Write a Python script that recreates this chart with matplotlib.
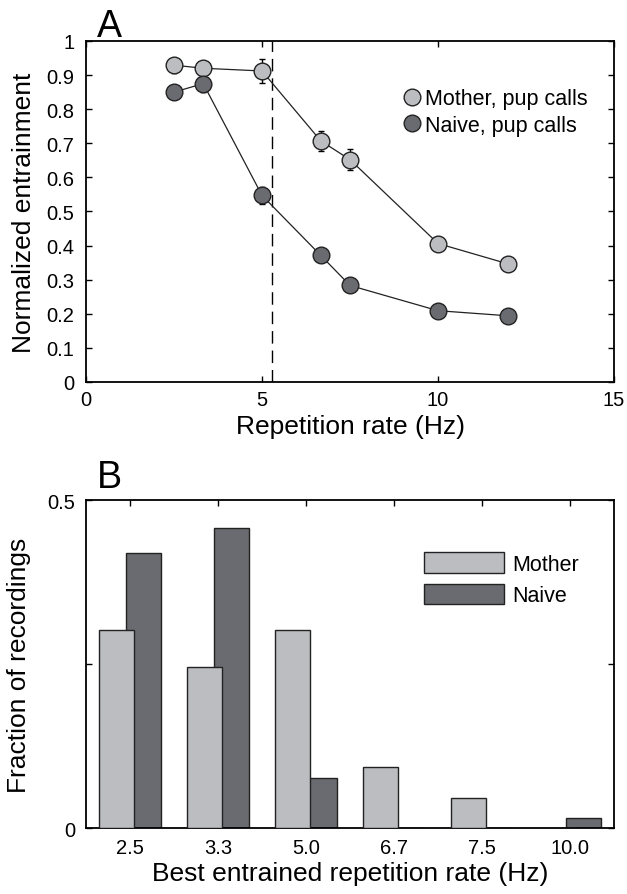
import matplotlib
matplotlib.use("Agg")
import matplotlib.pyplot as plt
from matplotlib.patches import Patch
from matplotlib.lines import Line2D

plt.rcParams['font.family'] = ['Liberation Sans', 'DejaVu Sans']

# Panel A data
rates = [2.5, 3.33, 5.0, 6.67, 7.5, 10.0, 12.0]
mother = [0.929, 0.920, 0.912, 0.707, 0.652, 0.406, 0.346]
mother_err = [0.022, 0.015, 0.035, 0.030, 0.030, 0.020, 0.020]
naive = [0.850, 0.875, 0.547, 0.371, 0.283, 0.209, 0.194]
naive_err = [0.010, 0.026, 0.026, 0.010, 0.010, 0.012, 0.020]
dash_x = 5.29

# Panel B data
cats = ['2.5', '3.3', '5.0', '6.7', '7.5', '10.0']
frac_mother = [0.302, 0.245, 0.302, 0.093, 0.046, 0.0]
frac_naive = [0.419, 0.458, 0.077, 0.0, 0.0, 0.015]

light = '#bcbdc1'
dark = '#6a6b70'
edge = '#222222'

TICK_FS = 14.5
LABEL_FS = 19
LEG_FS = 15.5

fig = plt.figure(figsize=(6.27, 8.95), dpi=100)

# ---------- Panel A ----------
axA = fig.add_axes([0.1372, 0.5721, 0.8421, 0.3810])
axA.errorbar(rates, mother, yerr=mother_err, fmt='none', ecolor='black',
             elinewidth=1, capsize=2.5, capthick=1, zorder=2)
axA.errorbar(rates, naive, yerr=naive_err, fmt='none', ecolor='black',
             elinewidth=1, capsize=2.5, capthick=1, zorder=2)
axA.plot(rates, mother, '-', color=edge, lw=0.9, marker='o', ms=12,
         mfc=light, mec=edge, mew=1, zorder=3)
axA.plot(rates, naive, '-', color=edge, lw=0.9, marker='o', ms=12,
         mfc=dark, mec=edge, mew=1, zorder=3)
axA.axvline(dash_x, color='black', lw=1, dashes=(9, 5), zorder=1)
axA.set_xlim(0, 15)
axA.set_ylim(0, 1)
axA.set_xticks([0, 5, 10, 15])
axA.set_yticks([i / 10 for i in range(11)])
axA.set_yticklabels(['0', '0.1', '0.2', '0.3', '0.4', '0.5', '0.6', '0.7', '0.8', '0.9', '1'])
axA.tick_params(direction='in', top=True, right=True, labelsize=TICK_FS, length=4, width=1)
axA.tick_params(axis='x', pad=6)
axA.tick_params(axis='y', pad=8.5)
axA.set_xlabel('Repetition rate (Hz)', fontsize=LABEL_FS, labelpad=3.5)
axA.set_ylabel('Normalized entrainment', fontsize=LABEL_FS)
axA.yaxis.set_label_coords(-0.094, 0.5)
for s in axA.spines.values():
    s.set_linewidth(1.3)
handlesA = [Line2D([], [], ls='none', marker='o', ms=12, mfc=light, mec=edge, mew=1),
            Line2D([], [], ls='none', marker='o', ms=12, mfc=dark, mec=edge, mew=1)]
axA.legend(handlesA, ['Mother, pup calls', 'Naive, pup calls'], loc='upper left',
           bbox_to_anchor=(0.601, 0.861), frameon=False, fontsize=LEG_FS,
           handlelength=0.8, handletextpad=0.2, labelspacing=0.26, borderpad=0,
           borderaxespad=0)
fig.text(0.155, 0.9587, 'A', fontsize=27)

# ---------- Panel B ----------
axB = fig.add_axes([0.1372, 0.0734, 0.8421, 0.3668])
pos = list(range(1, len(cats) + 1))
axB.bar([p + 0.15 for p in pos], frac_naive, width=0.4, color=dark,
        edgecolor=edge, linewidth=1, zorder=2)
axB.bar([p - 0.15 for p in pos], frac_mother, width=0.4, color=light,
        edgecolor=edge, linewidth=1, zorder=3)
axB.set_xlim(0.5, 6.5)
axB.set_ylim(0, 0.5)
axB.set_xticks(pos)
axB.set_xticklabels(cats)
axB.set_yticks([0, 0.25, 0.5])
axB.set_yticklabels(['0', '', '0.5'])
axB.tick_params(direction='in', top=True, right=True, labelsize=TICK_FS, length=4, width=1)
axB.tick_params(axis='x', bottom=False, pad=7.3)
axB.tick_params(axis='y', pad=8)
axB.set_xlabel('Best entrained repetition rate (Hz)', fontsize=LABEL_FS, labelpad=2.2)
axB.set_ylabel('Fraction of recordings', fontsize=LABEL_FS)
axB.yaxis.set_label_coords(-0.104, 0.5)
for s in axB.spines.values():
    s.set_linewidth(1.3)
handlesB = [Patch(facecolor=light, edgecolor=edge, linewidth=1),
            Patch(facecolor=dark, edgecolor=edge, linewidth=1)]
axB.legend(handlesB, ['Mother', 'Naive'], loc='upper left',
           bbox_to_anchor=(0.640, 0.8425), frameon=False, fontsize=LEG_FS,
           handlelength=3.72, handleheight=1.12, handletextpad=0.4,
           labelspacing=0.42, borderpad=0, borderaxespad=0)
fig.text(0.155, 1 - 488 / 895, 'B', fontsize=27)

fig.savefig('out.png', dpi=100)
